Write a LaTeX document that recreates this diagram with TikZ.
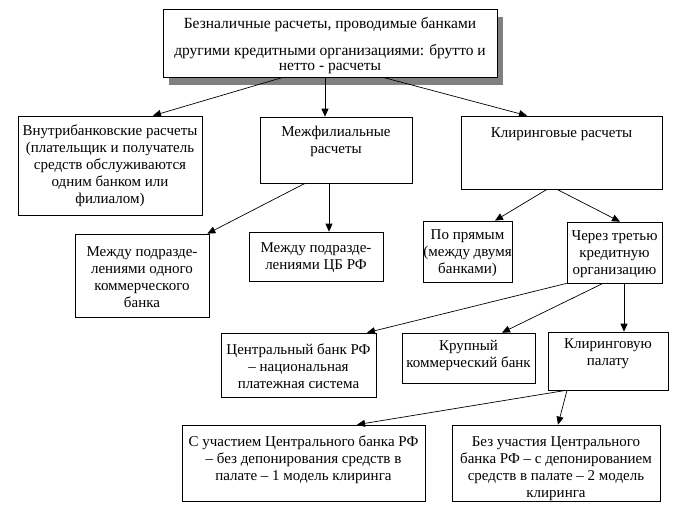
\documentclass[tikz,border=0pt]{standalone}
\usepackage{fontspec}
\setmainfont{Liberation Serif}
\newfontfamily\diagfont{Liberation Serif}
\usetikzlibrary{arrows.meta,shadows}
\newcommand\firstline{\rule{0pt}{11pt}}
\begin{document}
\begin{tikzpicture}[x=1pt,y=-1pt,
  box/.style={draw, line width=0.7pt, fill=white, inner sep=0pt},
  txt/.style={anchor=north, inner sep=0pt, align=center, font=\diagfont\fontsize{15}{17}\selectfont},
  arr/.style={-{Triangle[length=8pt,width=7pt]}, line width=0.7pt}]
\fill[white] (0,0) rectangle (682,519);
\useasboundingbox (0,0) rectangle (682,519);

% boxes
\node[box, minimum width=334pt, minimum height=68pt,
  drop shadow={shadow xshift=6pt, shadow yshift=-8pt, fill=black!50, opacity=1}] (top) at (330,43) {};
\node[box, minimum width=184pt, minimum height=99pt] (vnutri) at (110,165.5) {};
\node[box, minimum width=152pt, minimum height=66pt] (mezhf) at (336,150) {};
\node[box, minimum width=201pt, minimum height=73pt] (klir) at (561.5,152.5) {};
\node[box, minimum width=134pt, minimum height=83pt] (mpod1) at (142,275.5) {};
\node[box, minimum width=134pt, minimum height=49pt] (mpod2) at (316,256.5) {};
\node[box, minimum width=89pt, minimum height=61pt] (pryam) at (467.5,251.5) {};
\node[box, minimum width=95pt, minimum height=61pt] (cherez) at (614.5,252.5) {};
\node[box, minimum width=155pt, minimum height=64pt] (cb) at (298.5,365) {};
\node[box, minimum width=133pt, minimum height=50pt] (krup) at (468.5,358) {};
\node[box, minimum width=120pt, minimum height=58pt] (palata) at (608,361) {};
\node[box, minimum width=243pt, minimum height=76pt] (b1) at (303.5,463) {};
\node[box, minimum width=208pt, minimum height=76pt] (b2) at (556,463) {};

% texts
\node[txt, font=\diagfont\fontsize{15.5}{17}\selectfont] (top-t) at (330,17.5) {\firstline Безналичные расчеты, проводимые банками\\[10pt]другими кредитными организациями: брутто и\\[-2pt]нетто - расчеты};
\node[txt] (vnutri-t) at (110,124.5) {\firstline Внутрибанковские расчеты\\(плательщик и получатель\\средств обслуживаются\\одним банком или\\филиалом)};
\node[txt] (mezhf-t) at (336,125.5) {\firstline Межфилиальные\\расчеты};
\node[txt] (klir-t) at (561.5,126.5) {\firstline Клиринговые расчеты};
\node[txt] (mpod1-t) at (142,245.5) {\firstline Между подразде-\\лениями одного\\коммерческого\\банка};
\node[txt] (mpod2-t) at (316,241.5) {\firstline Между подразде-\\лениями ЦБ РФ};
\node[txt] (pryam-t) at (467.5,228.5) {\firstline По прямым\\(между двумя\\банками)};
\node[txt] (cherez-t) at (614.5,229.5) {\firstline Через третью\\кредитную\\организацию};
\node[txt] (cb-t) at (298.5,343.5) {\firstline Центральный банк РФ\\– национальная\\платежная система};
\node[txt] (krup-t) at (468.5,339.5) {\firstline Крупный\\коммерческий банк};
\node[txt] (palata-t) at (608,337.5) {\firstline Клиринговую\\палату};
\node[txt] (b1-t) at (303.5,435.5) {\firstline С участием Центрального банка РФ\\– без депонирования средств в\\палате – 1 модель клиринга};
\node[txt] (b2-t) at (556,435.5) {\firstline Без участия Центрального\\банка РФ – с депонированием\\средств в палате – 2 модель\\клиринга};

% connectors
\draw[arr] ([xshift=-47pt]top.south) -- ([xshift=43pt]vnutri.north);
\draw[arr] ([xshift=-5pt]top.south) -- ([xshift=-11pt]mezhf.north);
\draw[arr] ([xshift=53pt]top.south) -- ([xshift=-34.5pt]klir.north);
\draw[arr] ([xshift=-31pt]mezhf.south) -- ([xshift=-2pt]mpod1.north east);
\draw[arr] ([xshift=-7pt]mezhf.south) -- ([xshift=13pt]mpod2.north);
\draw[arr] ([xshift=-14.5pt]klir.south) -- ([xshift=27.5pt]pryam.north);
\draw[arr] ([xshift=-4.5pt]klir.south) -- ([xshift=5.5pt]cherez.north);
\draw[arr] (cherez.south west) -- ([xshift=68.5pt]cb.north);
\draw[arr] ([xshift=-11.5pt]cherez.south) -- ([xshift=33.5pt]krup.north);
\draw[arr] ([xshift=9.5pt]cherez.south) -- ([xshift=16pt]palata.north);
\draw[arr] ([xshift=-42pt]palata.south) -- ([xshift=53.5pt]b1.north);
\draw[arr] ([xshift=-41pt]palata.south) -- ([xshift=2pt]b2.north);
\end{tikzpicture}
\end{document}
